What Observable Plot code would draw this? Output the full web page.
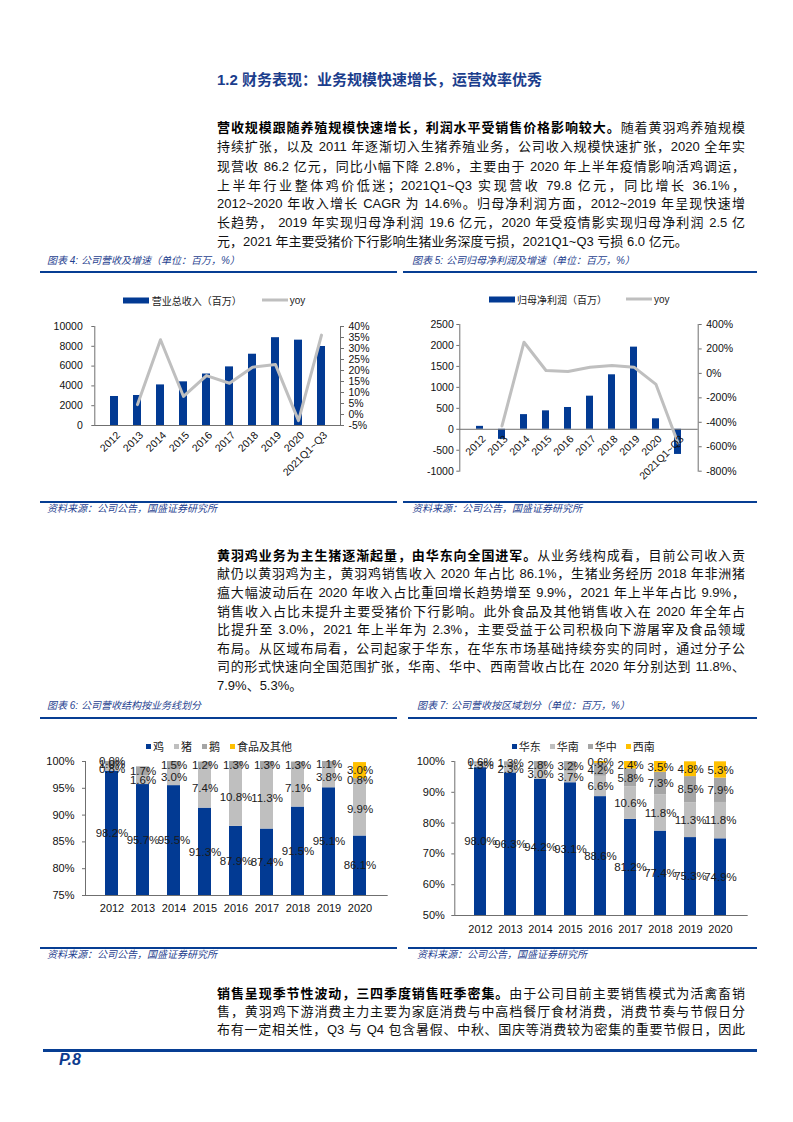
<!DOCTYPE html>
<html><head><meta charset="utf-8">
<script src="https://cdn.jsdelivr.net/npm/d3@7"></script>
<script src="https://cdn.jsdelivr.net/npm/@observablehq/plot@0.6"></script>
<style>
html,body{margin:0;padding:0;background:#fff;}
#page{position:relative;width:793px;height:1122px;overflow:hidden;font-family:"Liberation Sans","Noto Sans CJK SC",sans-serif;color:#111;}
.abs{position:absolute;}
.heading{left:217px;top:69px;font-size:15px;font-weight:bold;color:#1b3d8c;line-height:22px;white-space:nowrap;}
.tl{position:absolute;left:217px;width:528px;font-size:13px;line-height:19px;height:19px;text-align:justify;text-align-last:justify;}
.tl.last{text-align-last:left;}
.tl b{font-weight:bold;color:#000;}
.figt{position:absolute;font-size:10px;font-style:italic;color:#1f3f8f;line-height:14px;white-space:nowrap;}
.hr{position:absolute;height:2px;background:#073e93;}
.legend{position:absolute;display:flex;align-items:center;transform:translateY(-50%);white-space:nowrap;color:#222;}
.legend .item{display:flex;align-items:center;}
.sw{display:inline-block;}
.chart{position:absolute;}
.pnum{position:absolute;left:59px;top:1050px;font-size:16px;font-weight:bold;font-style:italic;color:#0d3b8e;line-height:20px;}
</style>
</head><body>
<div id="page"></div>
<script>
// ---------- DATA ----------
const revYears = ["2012","2013","2014","2015","2016","2017","2018","2019","2020","2021Q1~Q3"];
const revenue = [2930,3030,4100,4410,5200,5920,7200,8870,8620,7980];
const revenueYoy = [null,4.5,34.0,8.2,17.7,14.2,21.5,22.7,-2.8,36.1];
const revLeftTicks = [0,2000,4000,6000,8000,10000];
const revRightTicks = [-5,0,5,10,15,20,25,30,35,40];

const netProfit = [70,-240,350,440,520,790,1300,1960,250,-600];
const profitYoy = [null,-430,255,24,16,51,65,51,-90,-570];
const profitLeftTicks = [-1000,-500,0,500,1000,1500,2000,2500];
const profitRightTicks = [-800,-600,-400,-200,0,200,400];

const shareYears = ["2012","2013","2014","2015","2016","2017","2018","2019","2020"];
const bizSeries = ["鸡","猪","鹅","食品及其他"];
const bizChicken = [98.2,95.7,95.5,91.3,87.9,87.4,91.5,95.1,86.1];
const bizPig = [0.8,1.6,3.0,7.4,10.8,11.3,7.1,3.8,9.9];
const bizGoose = [1.0,1.7,1.5,1.2,1.3,1.3,1.3,1.1,0.8];
const bizFood = [0.0,null,null,null,null,null,null,null,3.0];
const bizTicks = [75,80,85,90,95,100];

const regSeries = ["华东","华南","华中","西南"];
const regEast = [98.0,96.3,94.2,93.1,88.6,81.2,77.4,75.3,74.9];
const regSouth = [1.3,2.3,3.0,3.7,6.6,10.6,11.8,11.3,11.8];
const regCentral = [0.6,1.3,2.8,3.2,4.2,5.8,7.3,8.5,7.9];
const regSouthwest = [null,null,null,null,0.6,2.4,3.5,4.8,5.3];
const regTicks = [50,60,70,80,90,100];

// ---------- STYLE ----------
const BLUE = "#023a93";
const LIGHT = "#bfbfbf", MID = "#a5a5a5", GOLD = "#ffc000";
const AXIS = "#6f6f6f";
const FONT = '"Liberation Sans","Noto Sans CJK SC",sans-serif';
const page = document.getElementById("page");

function el(tag, cls, css, html) {
  const e = document.createElement(tag);
  if (cls) e.className = cls;
  if (css) Object.assign(e.style, css);
  if (html != null) e.innerHTML = html;
  page.appendChild(e);
  return e;
}

// ---------- TEXT ----------
el("div","abs heading",null,"1.2 财务表现：业务规模快速增长，运营效率优秀");

function para(lines, centers, lastJustified) {
  lines.forEach((t,i) => {
    const last = i === lines.length-1 && !lastJustified;
    el("div","tl"+(last?" last":""),{top:(centers[i]-9.5)+"px"},t);
  });
}
para([
  "<b>营收规模跟随养殖规模快速增长，利润水平受销售价格影响较大。</b>随着黄羽鸡养殖规模",
  "持续扩张，以及 2011 年逐渐切入生猪养殖业务，公司收入规模快速扩张，2020 全年实",
  "现营收 86.2 亿元，同比小幅下降 2.8%，主要由于 2020 年上半年疫情影响活鸡调运，",
  "上半年行业整体鸡价低迷；2021Q1~Q3 实现营收 79.8 亿元，同比增长 36.1%，",
  "2012~2020 年收入增长 CAGR 为 14.6%。归母净利润方面，2012~2019 年呈现快速增",
  "长趋势， 2019 年实现归母净利润 19.6 亿元，2020 年受疫情影实现归母净利润 2.5 亿",
  "元，2021 年主要受猪价下行影响生猪业务深度亏损，2021Q1~Q3 亏损 6.0 亿元。"
],[127,146.5,166,185,203.5,222.5,241.5]);

para([
  "<b>黄羽鸡业务为主生猪逐渐起量，由华东向全国进军。</b>从业务线构成看，目前公司收入贡",
  "献仍以黄羽鸡为主，黄羽鸡销售收入 2020 年占比 86.1%，生猪业务经历 2018 年非洲猪",
  "瘟大幅波动后在 2020 年收入占比重回增长趋势增至 9.9%，2021 年上半年占比 9.9%，",
  "销售收入占比未提升主要受猪价下行影响。此外食品及其他销售收入在 2020 年全年占",
  "比提升至 3.0%，2021 年上半年为 2.3%，主要受益于公司积极向下游屠宰及食品领域",
  "布局。从区域布局看，公司起家于华东，在华东市场基础持续夯实的同时，通过分子公",
  "司的形式快速向全国范围扩张，华南、华中、西南营收占比在 2020 年分别达到 11.8%、",
  "7.9%、5.3%。"
],[555,573.5,592.3,611,629.5,648.3,666.7,685]);

para([
  "<b>销售呈现季节性波动，三四季度销售旺季密集。</b>由于公司目前主要销售模式为活禽畜销",
  "售，黄羽鸡下游消费主力主要为家庭消费与中高档餐厅食材消费，消费节奏与节假日分",
  "布有一定相关性，Q3 与 Q4 包含暑假、中秋、国庆等消费较为密集的重要节假日，因此"
],[993.5,1011.5,1029.5], true);

// figure titles, rules, sources
const SRC = "资料来源：公司公告，国盛证券研究所";
el("div","figt",{left:"47px",top:"254px"},"图表 4: 公司营收及增速（单位：百万，%）");
el("div","figt",{left:"412px",top:"254px"},"图表 5: 公司归母净利润及增速（单位：百万，%）");
el("div","figt",{left:"47px",top:"699px"},"图表 6: 公司营收结构按业务线划分");
el("div","figt",{left:"417px",top:"699px"},"图表 7: 公司营收按区域划分（单位：百万，%）");
el("div","hr",{left:"40px",width:"357px",top:"271px"});
el("div","hr",{left:"403px",width:"354px",top:"271px"});
el("div","hr",{left:"40px",width:"357px",top:"716.5px"});
el("div","hr",{left:"408px",width:"349px",top:"716.5px"});
el("div","hr",{left:"40px",width:"357px",top:"500.5px"});
el("div","hr",{left:"403px",width:"354px",top:"500.5px"});
el("div","hr",{left:"40px",width:"357px",top:"946.5px"});
el("div","hr",{left:"408px",width:"349px",top:"946.5px"});
el("div","figt",{left:"47px",top:"502px"},SRC);
el("div","figt",{left:"412px",top:"502px"},SRC);
el("div","figt",{left:"47px",top:"948px"},SRC);
el("div","figt",{left:"417px",top:"948px"},SRC);
el("div","hr",{left:"43px",width:"714px",top:"1049px",height:"2.5px"});
el("div","pnum",null,"P.8");

// ---------- LEGENDS ----------
function legend(items, left, top, fontSize, gap) {
  const d = el("div","legend",{left:left+"px",top:top+"px",fontSize:fontSize+"px",gap:gap+"px"});
  items.forEach(it => {
    const s = document.createElement("span"); s.className = "item";
    const sw = document.createElement("span"); sw.className = "sw";
    Object.assign(sw.style, {background: it.color, width: it.w+"px", height: it.h+"px", marginRight: it.m+"px"});
    s.appendChild(sw); s.appendChild(document.createTextNode(it.label));
    d.appendChild(s);
  });
}
legend([{label:"营业总收入（百万）",color:BLUE,w:26,h:6,m:3},{label:"yoy",color:LIGHT,w:26,h:3,m:2}],122.7,300,10,20);
legend([{label:"归母净利润（百万）",color:BLUE,w:26,h:6,m:2},{label:"yoy",color:LIGHT,w:26,h:3,m:2}],489,299,10,19);
const bizColors = [BLUE, LIGHT, MID, GOLD];
const regColors = [BLUE, LIGHT, MID, GOLD];
legend(bizSeries.map((s,i)=>({label:s,color:bizColors[i],w:5,h:5,m:2})),146,746,11,10);
legend(regSeries.map((s,i)=>({label:s,color:regColors[i],w:5,h:5,m:2})),511.7,746,11,9);

// ---------- CHARTS ----------
function place(svg, left, top) {
  const d = el("div","chart",{left:left+"px",top:top+"px"});
  d.appendChild(svg);
}

function dualChart(o) {
  const [l0,l1] = o.leftDomain;
  const r0 = o.rightTicks[0], r1 = o.rightTicks[o.rightTicks.length-1];
  const toLeft = p => l0 + (p - r0)/(r1 - r0)*(l1 - l0);
  const fromLeft = v => r0 + (v - l0)/(l1 - l0)*(r1 - r0);
  const bars = o.years.map((y,i)=>({year:y, value:o.values[i]}));
  const line = o.years.map((y,i)=>({year:y, yoy:o.yoy[i]})).filter(d=>d.yoy!=null);
  return Plot.plot({
    width:o.width, height:o.height,
    marginLeft:o.ml, marginRight:o.mr, marginTop:o.mt, marginBottom:o.mb,
    style:{fontFamily:FONT, fontSize:"10.5px", color:"#111", background:"transparent"},
    x:{domain:o.years, padding:o.padding, axis:null},
    y:{domain:o.leftDomain, label:null},
    marks:[
      Plot.barY(bars,{x:"year", y:"value", fill:BLUE}),
      Plot.ruleY([0],{stroke:AXIS}),
      Plot.line(line,{x:"year", y:d=>toLeft(d.yoy), stroke:LIGHT, strokeWidth:3}),
      Plot.frame({anchor:"left", stroke:AXIS}),
      Plot.frame({anchor:"right", stroke:AXIS}),
      Plot.axisY({anchor:"left", label:null, ticks:o.leftTicks, tickSize:3, tickPadding:o.lpad, tickFormat:d=>String(d), stroke:AXIS}),
      Plot.axisY({anchor:"right", label:null, ticks:o.rightTicks.map(toLeft), tickSize:3, tickPadding:o.rpad, tickFormat:d=>Math.round(fromLeft(d))+"%", stroke:AXIS}),
      Plot.text(bars,{x:"year", y:()=>0, text:"year", rotate:-45, textAnchor:"end", dx:o.ldx, dy:o.ldy, fontSize:10.5, fill:"#111"})
    ]
  });
}

place(dualChart({years:revYears, values:revenue, yoy:revenueYoy, leftDomain:[0,10000], leftTicks:revLeftTicks, rightTicks:revRightTicks,
  width:357, height:220, ml:54.3, mr:57, mt:46, mb:75, padding:0.65, lpad:9, rpad:5, ldx:4, ldy:8}), 40, 280);

place(dualChart({years:revYears, values:netProfit, yoy:profitYoy, leftDomain:[-1000,2500], leftTicks:profitLeftTicks, rightTicks:profitRightTicks,
  width:354, height:216, ml:56.3, mr:59.3, mt:44, mb:25.3, padding:0.69, lpad:3, rpad:5, ldx:4, ldy:8}), 403, 280);

function stackChart(o) {
  const bars = [], labels = [];
  o.years.forEach((yr,i)=>{
    let base = 0;
    o.series.forEach((s,j)=>{
      const v = o.values[j][i];
      if (v == null) return;
      const y1 = base, y2 = base + v; base = y2;
      const lo = Math.max(y1, o.yMin);
      bars.push({year:yr, series:s, y1:lo, y2:y2});
      labels.push({year:yr, value:v, mid:(lo+y2)/2});
    });
  });
  return Plot.plot({
    width:o.width, height:o.height,
    marginLeft:o.ml, marginRight:o.mr, marginTop:o.mt, marginBottom:o.mb,
    style:{fontFamily:FONT, fontSize:"11px", color:"#111", background:"transparent"},
    x:{domain:o.years, padding:o.padding, label:null},
    y:{domain:[o.yMin,100], label:null},
    color:{domain:o.series, range:o.colors},
    marks:[
      Plot.barY(bars,{x:"year", y1:"y1", y2:"y2", fill:"series"}),
      Plot.frame({anchor:"left", stroke:AXIS}),
      Plot.frame({anchor:"bottom", stroke:AXIS}),
      Plot.axisY({label:null, ticks:o.ticks, tickSize:3, tickPadding:o.lpad, tickFormat:d=>d+"%", stroke:AXIS}),
      Plot.axisX({tickSize:0, tickPadding:o.xpad, label:null}),
      Plot.text(labels,{x:"year", y:"mid", text:d=>d.value.toFixed(1)+"%", fill:"#1a1a1a", fontSize:11.5})
    ]
  });
}

place(stackChart({years:shareYears, series:bizSeries, colors:bizColors, values:[bizChicken,bizPig,bizGoose,bizFood], yMin:75, ticks:bizTicks,
  width:357, height:167, ml:45, mr:10.3, mt:9, mb:24, padding:0.58, lpad:8, xpad:9}), 40, 752);

place(stackChart({years:shareYears, series:regSeries, colors:regColors, values:[regEast,regSouth,regCentral,regSouthwest], yMin:50, ticks:regTicks,
  width:357, height:187, ml:54.3, mr:10.3, mt:9, mb:24, padding:0.6, lpad:7, xpad:10}), 400, 752);
</script>
</body></html>
